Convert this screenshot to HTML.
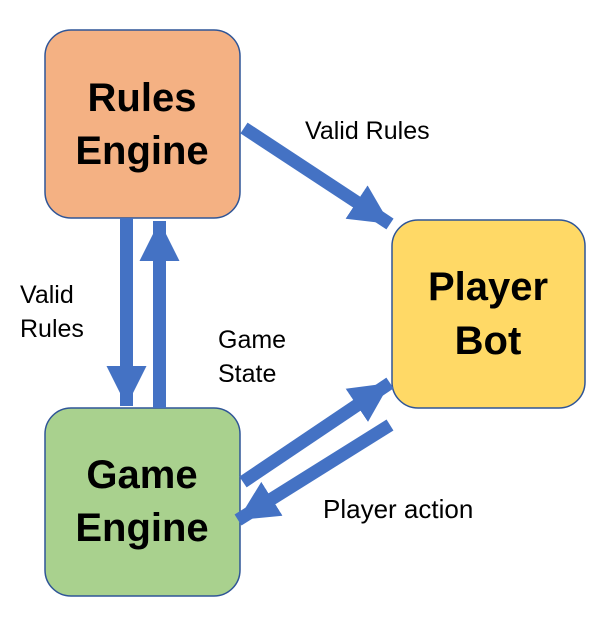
<!DOCTYPE html>
<html><head><meta charset="utf-8"><style>
body{margin:0;background:#fff;width:606px;height:620px;overflow:hidden}
svg{display:block}
text{font-family:"Liberation Sans",sans-serif}
</style></head><body>
<svg width="606" height="620" viewBox="0 0 606 620" xmlns="http://www.w3.org/2000/svg">
<defs>
<marker id="h" markerUnits="userSpaceOnUse" markerWidth="42" markerHeight="42" viewBox="0 0 42 42" refX="40" refY="21" orient="auto">
<path d="M0,1 L40,21 L0,41 Z" fill="#4472C4"/>
</marker>
</defs>
<rect x="45" y="30" width="195" height="188" rx="26" fill="#F4B183" stroke="#2F5597" stroke-width="1.5"/>
<rect x="392" y="220" width="193" height="188" rx="26" fill="#FFD966" stroke="#2F5597" stroke-width="1.5"/>
<rect x="45" y="408" width="195" height="188" rx="26" fill="#A9D18E" stroke="#2F5597" stroke-width="1.5"/>
<g stroke="#4472C4" stroke-width="13" fill="none">
<line x1="126.5" y1="218" x2="126.5" y2="406" marker-end="url(#h)"/>
<line x1="159.5" y1="408" x2="159.5" y2="221" marker-end="url(#h)"/>
<line x1="244" y1="128" x2="390" y2="224" marker-end="url(#h)"/>
<line x1="243" y1="482" x2="390" y2="383" marker-end="url(#h)"/>
<line x1="390" y1="425" x2="238" y2="520" marker-end="url(#h)"/>
</g>
<g font-weight="bold" font-size="40" text-anchor="middle" fill="#000">
<text x="142" y="111">Rules</text>
<text x="142" y="164">Engine</text>
<text x="488" y="300">Player</text>
<text x="488" y="354">Bot</text>
<text x="142" y="488">Game</text>
<text x="142" y="541">Engine</text>
</g>
<g font-size="25" fill="#000">
<text x="305" y="139">Valid Rules</text>
<text x="20" y="303">Valid</text>
<text x="20" y="337">Rules</text>
<text x="218" y="348">Game</text>
<text x="218" y="382">State</text>
<text x="323" y="518" font-size="26">Player action</text>
</g>
</svg>
</body></html>
